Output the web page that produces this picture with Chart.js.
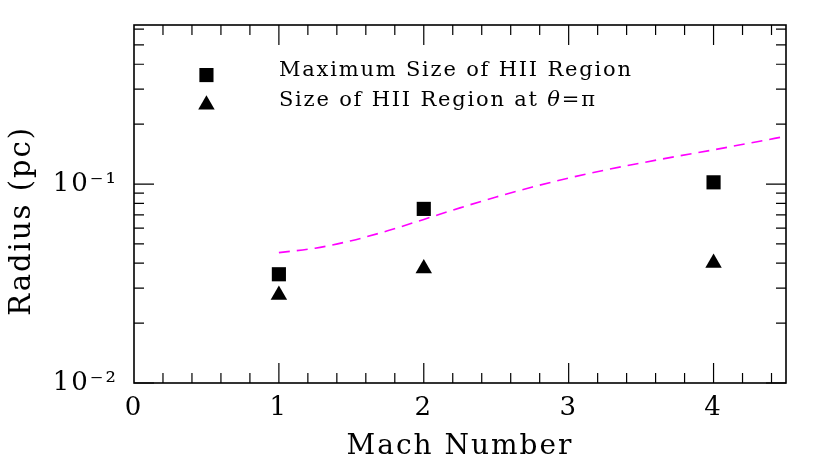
<!DOCTYPE html>
<html>
<head>
<meta charset="utf-8">
<script src="https://cdn.jsdelivr.net/npm/chart.js@4.4.1/dist/chart.umd.min.js"></script>
<style>
  html, body { margin: 0; padding: 0; background: #fff; }
  #wrap { width: 830px; height: 472px; }
</style>
</head>
<body>
<div id="wrap"><canvas id="chart" width="830" height="472"></canvas></div>
<script>
// measured points
const machNumbers = [1, 2, 4]
const maxRadius = [0.0352, 0.075, 0.102]
const radiusAtPi = [0.0277, 0.0376, 0.0401]

// dashed model curve
const modelMach = [1.0, 1.25, 1.5, 1.75, 2.0, 2.25, 2.5, 2.75, 3.0, 3.25, 3.5, 3.75, 4.0, 4.25, 4.5]
const modelRadius = [0.0452, 0.0476, 0.0519, 0.0582, 0.0664, 0.0759, 0.0861, 0.0966, 0.1072, 0.1175, 0.1276, 0.138, 0.1486, 0.1607, 0.1738]

const xTickValues = [0, 1, 2, 3, 4]
const yTickValues = [0.01, 0.1]
const yTickLabels = ['10\u207B\u00B2', '10\u207B\u00B9']

const legendLabels = [
  [{ text: 'Maximum Size of HII Region' }],
  [{ text: 'Size of HII Region at ' }, { text: '\u03B8', italic: true }, { text: '=\u03C0' }],
]

const FONT = "'DejaVu Serif', 'Liberation Serif', serif"

const toPoints = (xs, ys) => xs.map((x, i) => ({ x, y: ys[i] }))

// same geometry as Chart.js point styles
const drawMarker = (ctx, style, x, y, r) => {
  ctx.beginPath()
  if (style === 'rect') {
    const s = Math.SQRT1_2 * r
    ctx.rect(x - s, y - s, 2 * s, 2 * s)
  } else {
    for (let k = 0; k < 3; k++) {
      const rad = k * 2 * Math.PI / 3
      const px = x + Math.sin(rad) * r
      const py = y - Math.cos(rad) * r
      k === 0 ? ctx.moveTo(px, py) : ctx.lineTo(px, py)
    }
    ctx.closePath()
  }
  ctx.fill()
}

const spacing = {
  id: 'spacing',
  beforeLayout(chart) { chart.ctx.letterSpacing = '2px' },
  beforeDraw(chart) { chart.ctx.letterSpacing = '2px' },
}

const frameTicks = {
  id: 'frameTicks',
  afterDatasetsDraw(chart) {
    const { ctx, chartArea: a, scales: { x, y } } = chart
    ctx.save()
    ctx.strokeStyle = '#000'
    ctx.lineWidth = 1.2
    ctx.beginPath()
    for (let i = 1; i <= 22; i++) {
      const px = x.getPixelForValue(i * 0.2)
      const len = i % 5 === 0 ? 20 : 10
      ctx.moveTo(px, a.bottom); ctx.lineTo(px, a.bottom - len)
      ctx.moveTo(px, a.top); ctx.lineTo(px, a.top + len)
    }
    for (let d = -2; d <= -1; d++) {
      for (let m = 1; m <= 9; m++) {
        const v = m * Math.pow(10, d)
        if (v >= y.max) continue
        const py = y.getPixelForValue(v)
        const len = m === 1 ? 20 : 10
        ctx.moveTo(a.left, py); ctx.lineTo(a.left + len, py)
        ctx.moveTo(a.right, py); ctx.lineTo(a.right - len, py)
      }
    }
    ctx.stroke()
    ctx.lineWidth = 1.6
    ctx.strokeRect(a.left, a.top, a.right - a.left, a.bottom - a.top)

    // legend
    const markers = [['rect', 10, 0.353], ['triangle', 9.5, 0.25]]
    ctx.fillStyle = '#000'
    ctx.textBaseline = 'alphabetic'
    ctx.textAlign = 'left'
    ctx.letterSpacing = '1.8px'
    markers.forEach(([style, r, val], i) => {
      const py = y.getPixelForValue(val)
      drawMarker(ctx, style, x.getPixelForValue(0.5), py, r)
      let tx = x.getPixelForValue(1.0)
      legendLabels[i].forEach(part => {
        ctx.font = (part.italic ? 'italic ' : '') + '21px ' + FONT
        ctx.fillText(part.text, tx, py + 1)
        tx += ctx.measureText(part.text).width
      })
    })
    ctx.restore()
  },
}

new Chart(document.getElementById('chart'), {
  type: 'scatter',
  data: {
    datasets: [
      {
        label: legendLabels[0][0].text,
        data: toPoints(machNumbers, maxRadius),
        pointStyle: 'rect',
        pointRadius: 10,
        pointBackgroundColor: '#000',
        pointBorderWidth: 0,
      },
      {
        label: 'Size of HII Region at \u03B8=\u03C0',
        data: toPoints(machNumbers, radiusAtPi),
        pointStyle: 'triangle',
        pointRadius: 9.5,
        pointBackgroundColor: '#000',
        pointBorderWidth: 0,
      },
      {
        label: 'model',
        data: toPoints(modelMach, modelRadius),
        showLine: true,
        pointRadius: 0,
        borderColor: '#ff00ff',
        borderWidth: 1.6,
        borderDash: [11, 7],
        cubicInterpolationMode: 'monotone',
      },
    ],
  },
  options: {
    responsive: false,
    animation: false,
    layout: { padding: { top: 25, right: 44, left: 0, bottom: 0 } },
    plugins: { legend: { display: false }, tooltip: { enabled: false } },
    scales: {
      x: {
        type: 'linear',
        min: 0,
        max: 4.5,
        grid: { display: false, drawTicks: false },
        border: { display: false },
        afterBuildTicks: s => { s.ticks = xTickValues.map(value => ({ value })) },
        afterFit: s => { s.height = 89; s.paddingLeft = 0; s.paddingRight = 0 },
        ticks: { color: '#000', padding: 10, font: { family: FONT, size: 26 } },
        title: {
          display: true,
          text: 'Mach Number',
          color: '#000',
          font: { family: FONT, size: 28 },
          padding: { top: 0, bottom: 8 },
        },
      },
      y: {
        type: 'logarithmic',
        min: 0.01,
        max: 0.63,
        grid: { display: false, drawTicks: false },
        border: { display: false },
        afterBuildTicks: s => { s.ticks = yTickValues.map(value => ({ value })) },
        afterFit: s => { s.width = 134; s.paddingTop = 0; s.paddingBottom = 0 },
        ticks: {
          color: '#000',
          padding: 16,
          font: { family: FONT, size: 26 },
          callback: v => yTickLabels[yTickValues.indexOf(v)],
        },
        title: {
          display: true,
          // trailing spaces push the rotated title down a little, as in the original
          text: 'Radius (pc)   ',
          color: '#000',
          font: { family: FONT, size: 29 },
          padding: { top: 5, bottom: 0 },
        },
      },
    },
  },
  plugins: [spacing, frameTicks],
})
</script>
</body>
</html>
